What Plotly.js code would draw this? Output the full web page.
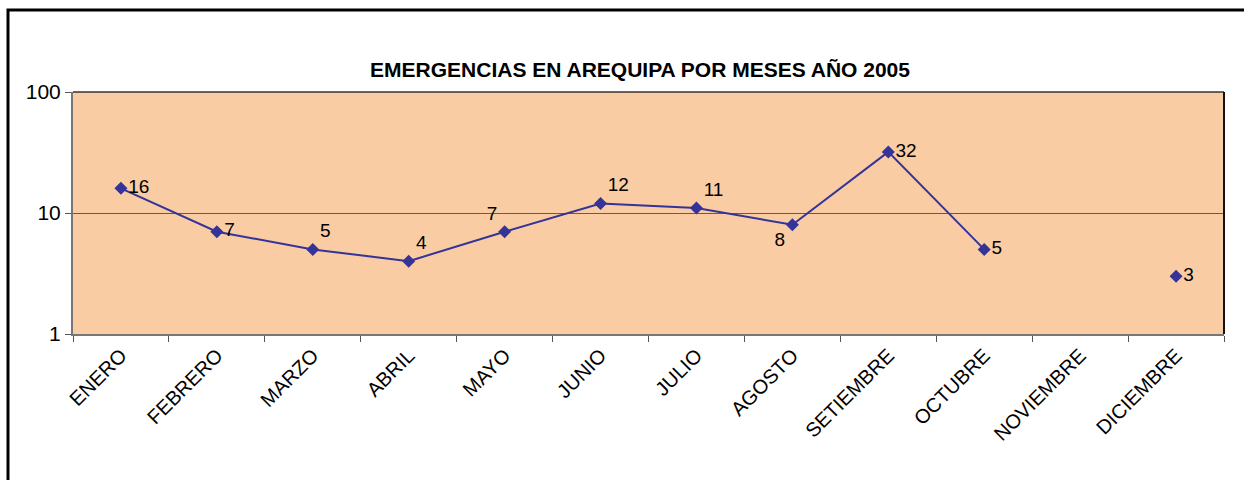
<!DOCTYPE html>
<html>
<head>
<meta charset="utf-8">
<script src="https://cdn.plot.ly/plotly-3.0.1.min.js"></script>
<style>body{margin:0;background:#fff}#chart{width:1244px;height:480px}</style>
</head>
<body>
<div id="chart"></div>
<script>
const months = ["ENERO","FEBRERO","MARZO","ABRIL","MAYO","JUNIO","JULIO","AGOSTO","SETIEMBRE","OCTUBRE","NOVIEMBRE","DICIEMBRE"];
const emergencias = [16, 7, 5, 4, 7, 12, 11, 8, 32, 5, null, 3];
const labelPos = ["middle right","middle right","top right","top right","top left","top right","top right","bottom left","middle right","middle right","middle right","middle right"];
const yTicks = [1, 10, 100];

const FONT = "Liberation Sans, Arial, sans-serif";

const trace = {
  x: months,
  y: emergencias,
  type: "scatter",
  mode: "lines+markers+text",
  connectgaps: false,
  text: emergencias.map(v => v == null ? "" : String(v)),
  textposition: labelPos,
  textfont: {family: FONT, size: 19, color: "#000"},
  line: {color: "#333399", width: 2},
  marker: {symbol: "diamond", size: 10, color: "#333399"},
  hoverinfo: "x+y",
  cliponaxis: false
};

const layout = {
  width: 1244, height: 480,
  margin: {l: 73, r: 20, t: 92, b: 146},
  paper_bgcolor: "#ffffff",
  plot_bgcolor: "#F9CCA3",
  showlegend: false,
  font: {family: FONT, size: 20, color: "#000"},
  title: {
    text: "<b>EMERGENCIAS EN AREQUIPA POR MESES AÑO 2005</b>",
    font: {family: FONT, size: 21, color: "#000"},
    x: 640/1244, xanchor: "center", y: 1 - 70/480, yanchor: "middle"
  },
  xaxis: {
    type: "category",
    tickangle: -45,
    tickson: "boundaries",
    ticks: "outside", ticklen: 6, tickcolor: "#555",
    showgrid: false,
    showline: true, linecolor: "#777", linewidth: 2,
    mirror: false,
    tickfont: {family: FONT, size: 20},
    range: [-0.5, 11.5],
    fixedrange: true
  },
  yaxis: {
    type: "log",
    range: [0, 2],
    tickvals: yTicks,
    ticktext: yTicks.map(String),
    ticks: "outside", ticklen: 6, tickcolor: "#555",
    showgrid: true, gridcolor: "#6e5a48", gridwidth: 1,
    showline: true, linecolor: "#777", linewidth: 2,
    zeroline: false,
    tickfont: {family: FONT, size: 21},
    fixedrange: true
  },
  shapes: [
    {type: "line", xref: "paper", yref: "paper", x0: 0, x1: 1, y0: 1, y1: 1, line: {color: "#333", width: 1.5}},
    {type: "line", xref: "paper", yref: "paper", x0: 1, x1: 1, y0: 0, y1: 1, line: {color: "#111", width: 2}},
    {type: "rect", xref: "paper", yref: "paper",
     x0: (8-73)/1151, x1: (1250-73)/1151, y0: (334-490)/242, y1: 1 + (92-10)/242,
     line: {color: "#000", width: 3}, fillcolor: "rgba(0,0,0,0)", layer: "above"}
  ]
};

Plotly.newPlot("chart", [trace], layout, {displayModeBar: false, staticPlot: true});
</script>
</body>
</html>
